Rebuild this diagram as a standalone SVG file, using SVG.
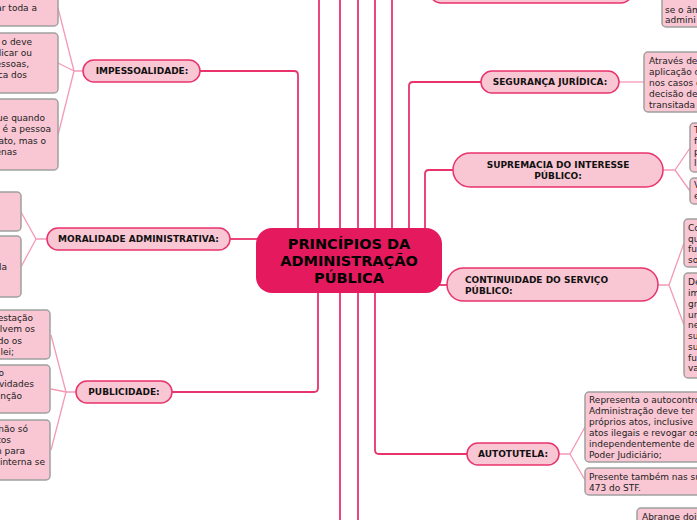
<svg xmlns="http://www.w3.org/2000/svg" width="697" height="520" viewBox="0 0 697 520">
<style>
.main{fill:none;stroke:#E8336C;stroke-width:1.8}
.sub{fill:none;stroke:#F39AB6;stroke-width:1.3}
.pill{fill:#F9C6D3;stroke:#E8336C;stroke-width:1.5}
.box{fill:#F9C6D3;stroke:#A0A0A0;stroke-width:1.5}
.lbl{font-family:"DejaVu Sans",Verdana,sans-serif;font-size:9px;font-weight:bold;fill:#111}
.txt{font-family:"DejaVu Sans",Verdana,sans-serif;font-size:9px;fill:#222}
.ctr{font-family:"DejaVu Sans",Verdana,sans-serif;font-size:14.5px;font-weight:bold;fill:#000;text-anchor:middle}
.e{text-anchor:end}
.m{text-anchor:middle}
</style>
<rect width="697" height="520" fill="#FFFFFF"/>
<g id="connectors">
<path class="main" d="M200 71 H294 Q298 71 298 75 V232"/>
<path class="main" d="M319 232 V-3"/>
<path class="main" d="M340 232 V-3"/>
<path class="main" d="M358 232 V-3"/>
<path class="main" d="M375 232 V-3"/>
<path class="main" d="M392 232 V-3"/>
<path class="main" d="M409 232 V86 Q409 82 413 82 H481"/>
<path class="main" d="M425 232 V174 Q425 170 429 170 H453"/>
<path class="main" d="M230 239 H260"/>
<path class="main" d="M438 285 H448"/>
<path class="main" d="M318 290 V388 Q318 392 314 392 H172"/>
<path class="main" d="M340 290 V523"/>
<path class="main" d="M358 290 V523"/>
<path class="main" d="M375 290 V450 Q375 454 379 454 H467"/>
<path class="sub" d="M83 71 H74 L58 8 M74 71 L58 63 M74 71 L58 135"/>
<path class="sub" d="M47 239 H36 L21 212 M36 239 L21 267"/>
<path class="sub" d="M76 392 H66 L51 335 M66 392 L51 389 M66 392 L51 450"/>
<path class="sub" d="M619 82 H644"/>
<path class="sub" d="M663 170 H675 L690 148 M675 170 L690 191"/>
<path class="sub" d="M658 285 H669 L684 243 M669 285 L684 325"/>
<path class="sub" d="M559 454 H570 L585 427 M570 454 L585 480"/>
</g>
<g id="central">
<rect x="256" y="228" width="186" height="65" rx="16" fill="#E5195E"/>
<text class="ctr" x="349" y="249">PRINCÍPIOS DA</text>
<text class="ctr" x="349" y="266">ADMINISTRAÇÃO</text>
<text class="ctr" x="349" y="283">PÚBLICA</text>
</g>
<g id="top-node">
<rect class="pill" x="430" y="-19" width="202" height="22" rx="11"/>
</g>
<g id="top-right-box">
<rect class="box" x="662" y="-30" width="100" height="57" rx="4"/>
<text class="txt" x="665" y="13">se o âm</text>
<text class="txt" x="665" y="23">admini</text>
</g>
<g id="impessoalidade">
<rect class="pill" x="83" y="60" width="117" height="22" rx="11"/>
<text class="lbl m" x="142" y="74.3">IMPESSOALIDADE:</text>
</g>
<g id="imp-box1">
<rect class="box" x="-60" y="-10" width="118" height="36" rx="4"/>
<text class="txt e" x="37" y="11">ar toda a</text>
</g>
<g id="imp-box2">
<rect class="box" x="-60" y="33" width="118" height="60" rx="4"/>
<text class="txt e" x="32" y="45">o deve</text>
<text class="txt e" x="32" y="56">dicar ou</text>
<text class="txt e" x="29" y="67">essoas,</text>
<text class="txt e" x="27" y="78">ca dos</text>
</g>
<g id="imp-box3">
<rect class="box" x="-60" y="99" width="118" height="71" rx="4"/>
<text class="txt e" x="45" y="121">ue quando</text>
<text class="txt e" x="51" y="132">é a pessoa</text>
<text class="txt e" x="46" y="144">ato, mas o</text>
<text class="txt e" x="17" y="155">enas</text>
</g>
<g id="moralidade">
<rect class="pill" x="47" y="228" width="183" height="22" rx="11"/>
<text class="lbl m" x="138.5" y="242.3">MORALIDADE ADMINISTRATIVA:</text>
</g>
<g id="mor-box1">
<rect class="box" x="-60" y="192" width="81" height="39" rx="4"/>
</g>
<g id="mor-box2">
<rect class="box" x="-60" y="236" width="81" height="61" rx="4"/>
<text class="txt e" x="7" y="270">la</text>
</g>
<g id="publicidade">
<rect class="pill" x="76" y="381" width="96" height="22" rx="11"/>
<text class="lbl m" x="124" y="395.3">PUBLICIDADE:</text>
</g>
<g id="pub-box1">
<rect class="box" x="-60" y="310" width="110" height="49" rx="4"/>
<text class="txt e" x="33" y="321">estação</text>
<text class="txt e" x="35" y="332">lvem os</text>
<text class="txt e" x="22" y="344">do os</text>
<text class="txt e" x="14" y="355">lei;</text>
</g>
<g id="pub-box2">
<rect class="box" x="-60" y="365" width="110" height="48" rx="4"/>
<text class="txt e" x="4" y="376">o</text>
<text class="txt e" x="34" y="387">vidades</text>
<text class="txt e" x="22" y="399">nção</text>
</g>
<g id="pub-box3">
<rect class="box" x="-60" y="420" width="110" height="60" rx="4"/>
<text class="txt e" x="28" y="432">não só</text>
<text class="txt e" x="11" y="443">tos</text>
<text class="txt e" x="25" y="454">n para</text>
<text class="txt e" x="45" y="465">interna se</text>
</g>
<g id="seguranca">
<rect class="pill" x="481" y="71" width="138" height="22" rx="11"/>
<text class="lbl m" x="550" y="85.3">SEGURANÇA JURÍDICA:</text>
</g>
<g id="seg-box">
<rect class="box" x="644" y="52" width="120" height="60" rx="4"/>
<text class="txt" x="649" y="64">Através de</text>
<text class="txt" x="649" y="75">aplicação d</text>
<text class="txt" x="649" y="86">nos casos d</text>
<text class="txt" x="649" y="97">decisão de</text>
<text class="txt" x="649" y="108">transitada</text>
</g>
<g id="supremacia">
<rect class="pill" x="453" y="153" width="210" height="34" rx="17"/>
<text class="lbl m" x="558" y="167.5">SUPREMACIA DO INTERESSE</text>
<text class="lbl m" x="558" y="179">PÚBLICO:</text>
</g>
<g id="sup-box1">
<rect class="box" x="690" y="123" width="60" height="49" rx="4"/>
<text class="txt" x="694" y="133">T</text>
<text class="txt" x="694" y="144">f</text>
<text class="txt" x="694" y="155">p</text>
<text class="txt" x="694" y="166">l</text>
</g>
<g id="sup-box2">
<rect class="box" x="690" y="178" width="60" height="26" rx="4"/>
<text class="txt" x="694" y="188">V</text>
<text class="txt" x="694" y="199">e</text>
</g>
<g id="continuidade">
<rect class="pill" x="447" y="268" width="211" height="33" rx="16.5"/>
<text class="lbl" x="465" y="283">CONTINUIDADE DO SERVIÇO</text>
<text class="lbl" x="465" y="294">PÚBLICO:</text>
</g>
<g id="cont-box1">
<rect class="box" x="684" y="219" width="60" height="48" rx="4"/>
<text class="txt" x="688" y="231">Co</text>
<text class="txt" x="688" y="241.5">qu</text>
<text class="txt" x="688" y="252">fu</text>
<text class="txt" x="688" y="263">so</text>
</g>
<g id="cont-box2">
<rect class="box" x="684" y="273" width="60" height="105" rx="4"/>
<text class="txt" x="688" y="285">De</text>
<text class="txt" x="688" y="296">im</text>
<text class="txt" x="688" y="307">gr</text>
<text class="txt" x="688" y="317.5">ur</text>
<text class="txt" x="688" y="328">ne</text>
<text class="txt" x="688" y="339">su</text>
<text class="txt" x="688" y="350">su</text>
<text class="txt" x="688" y="360.5">fu</text>
<text class="txt" x="688" y="371">va</text>
</g>
<g id="autotutela">
<rect class="pill" x="467" y="443" width="92" height="22" rx="11"/>
<text class="lbl m" x="513" y="457.3">AUTOTUTELA:</text>
</g>
<g id="auto-box1">
<rect class="box" x="585" y="392" width="140" height="70" rx="4"/>
<text class="txt" x="589" y="403">Representa o autocontrol</text>
<text class="txt" x="589" y="414">Administração deve ter</text>
<text class="txt" x="589" y="425">próprios atos, inclusive</text>
<text class="txt" x="589" y="436">atos ilegais e revogar os</text>
<text class="txt" x="589" y="447">independentemente de</text>
<text class="txt" x="589" y="458">Poder Judiciário;</text>
</g>
<g id="auto-box2">
<rect class="box" x="585" y="468" width="140" height="27" rx="4"/>
<text class="txt" x="589" y="480">Presente também nas su</text>
<text class="txt" x="589" y="491">473 do STF.</text>
</g>
<g id="bottom-box">
<rect class="box" x="637" y="508" width="100" height="40" rx="4"/>
<text class="txt" x="642" y="520">Abrange dois</text>
</g>
</svg>
